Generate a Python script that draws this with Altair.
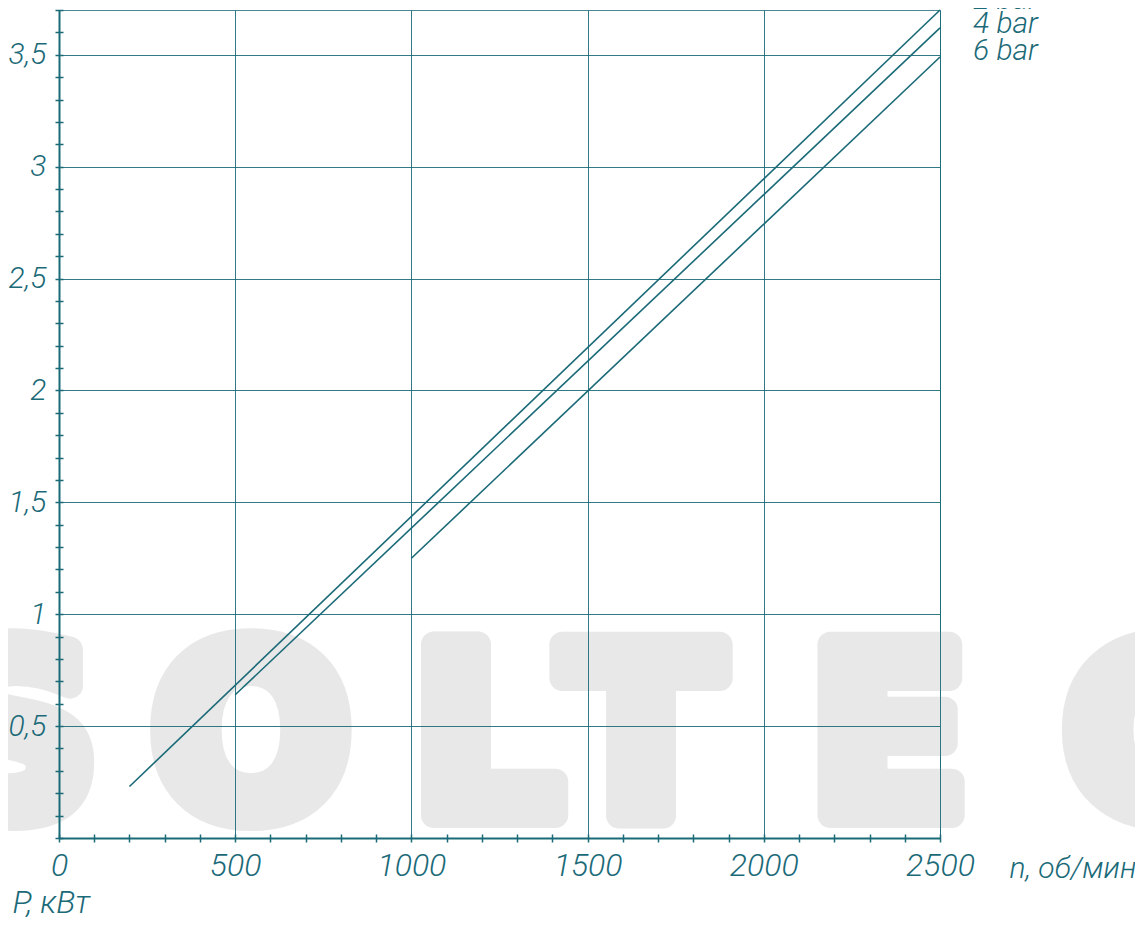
import altair as alt
import pandas as pd

# ---- data ----
series = ["2 bar", "4 bar", "6 bar"]
n_start = [200, 500, 1000]      # rpm where each line begins
n_end = [2500, 2500, 2500]      # rpm where each line ends
p_start = [0.23, 0.64, 1.25]    # kW at start
p_end = [3.70, 3.62, 3.49]      # kW at end

x_major = [0, 500, 1000, 1500, 2000, 2500]
y_major = [0.5, 1.0, 1.5, 2.0, 2.5, 3.0, 3.5]
x_minor = [i * 100 for i in range(26)]
y_minor = [round(i * 0.1, 1) for i in range(38)]

x_title = "n, об/мин"
y_title = "P, кВт"
watermark_letters = ["S", "O", "L", "T", "E", "C"]

rows = []
for s, n0, n1, p0, p1 in zip(series, n_start, n_end, p_start, p_end):
    rows.append({"series": s, "n": n0, "P": p0})
    rows.append({"series": s, "n": n1, "P": p1})
df = pd.DataFrame(rows)

TEAL = "#1b6a78"
FONT = "Roboto"
WM_GRAY = "#e8e8e8"

xscale = alt.Scale(domain=[0, 2500], nice=False, zero=False)
yscale = alt.Scale(domain=[0, 3.7], nice=False, zero=False)

label_expr = "replace(datum.label, '.', ',')"

x_main = alt.Axis(
    values=x_major, format=".1~f", labelExpr=label_expr, grid=True, ticks=False,
    domain=True, domainColor=TEAL, domainWidth=2, gridColor=TEAL, gridWidth=1,
    gridOpacity=0.9, labelFont=FONT, labelFontSize=32, labelFontStyle="italic",
    labelFontWeight=300, labelColor=TEAL, labelPadding=12, labelFlush=False,
    title=x_title, titleFont=FONT, titleFontSize=30, titleFontStyle="italic",
    titleFontWeight=300, titleColor=TEAL, titleX=950, titleY=39,
    titleAlign="left", titleBaseline="alphabetic", titleAngle=0,
    orient="bottom", zindex=1,
)
y_main = alt.Axis(
    values=y_major, format=".1~f", labelExpr=label_expr, grid=True, ticks=False,
    domain=True, domainColor=TEAL, domainWidth=2, gridColor=TEAL, gridWidth=1,
    gridOpacity=0.9, labelFont=FONT, labelFontSize=30, labelFontStyle="italic",
    labelFontWeight=300, labelColor=TEAL, labelPadding=13, labelFlush=False,
    title=y_title, titleFont=FONT, titleFontSize=32, titleFontStyle="italic",
    titleFontWeight=300, titleColor=TEAL, titleX=-47, titleY=902,
    titleAlign="left", titleBaseline="alphabetic", titleAngle=0,
    orient="left", zindex=1,
)
x_min_axis = alt.Axis(
    values=x_minor, labels=False, grid=False, domain=False, ticks=True,
    tickSize=8, tickWidth=1.5, tickColor=TEAL, offset=-4, title="",
    orient="bottom", zindex=1,
)
y_min_axis = alt.Axis(
    values=y_minor, labels=False, grid=False, domain=False, ticks=True,
    tickSize=8, tickWidth=1.5, tickColor=TEAL, offset=-4, title="",
    orient="left", zindex=1,
)

# background watermark, one letter at a time (decoration only)
wm_x = [-45, 192, 428, 582, 830, 1090]
wm_layers = []
for ch, xx in zip(watermark_letters, wm_x):
    wm_layers.append(
        alt.Chart(pd.DataFrame({"t": [ch]})).mark_text(
            font="DejaVu Sans", fontWeight="bold", fontSize=234, color=WM_GRAY,
            stroke=WM_GRAY, strokeWidth=26, strokeJoin="round",
            align="center", baseline="alphabetic",
        ).encode(text="t:N", x=alt.value(xx), y=alt.value(805))
    )

lines = alt.Chart(df).mark_line(color=TEAL, strokeWidth=1.6).encode(
    x=alt.X("n:Q", scale=xscale, axis=x_main),
    y=alt.Y("P:Q", scale=yscale, axis=y_main),
    detail="series:N",
)

minor = alt.Chart(df).mark_point(opacity=0).encode(
    x=alt.X("n:Q", scale=xscale, axis=x_min_axis),
    y=alt.Y("P:Q", scale=yscale, axis=y_min_axis),
)

label_layers = []
label_y = [-1, 23, 50]
for s, yy in zip(series, label_y):
    label_layers.append(
        alt.Chart(pd.DataFrame({"s": [s]})).mark_text(
            font=FONT, fontSize=30, fontStyle="italic", fontWeight=300, color=TEAL,
            align="left", baseline="alphabetic",
        ).encode(text="s:N", x=alt.value(914), y=alt.value(yy))
    )

chart = alt.layer(*wm_layers, lines, minor, *label_layers).resolve_axis(
    x="independent", y="independent"
).properties(
    width=881, height=828,
    autosize=alt.AutoSizeParams(type="none"),
    padding={"left": 51, "top": 2, "right": 195, "bottom": 82},
).configure_view(stroke=TEAL, strokeWidth=1, strokeOpacity=0.8)

chart.save("out.html", embed_options={"renderer": "svg", "actions": False})
